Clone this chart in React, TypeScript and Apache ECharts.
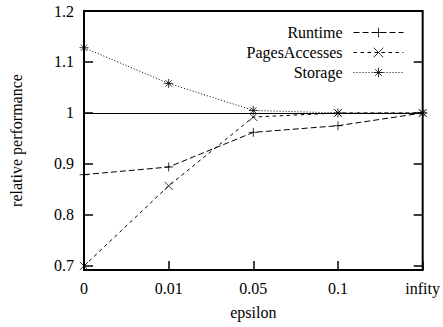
import React, { useEffect, useRef } from "react";
import * as echarts from "echarts";

const categories = ["0", "0.01", "0.05", "0.1", "infity"];
const runtime = [0.879, 0.894, 0.962, 0.975, 1.0];
const pagesAccesses = [0.7, 0.857, 0.992, 1.0, 1.0];
const storage = [1.128, 1.058, 1.005, 1.0, 1.0];
const yTicks = [0.7, 0.8, 0.9, 1.0, 1.1, 1.2];
const yMin = 0.692;
const yMax = 1.2;
const referenceLine = 1.0;

const FONT = "Liberation Serif";

const PLUS = "path://M5,0L5,10M0,5L10,5";
const CROSS = "path://M0,0L10,10M10,0L0,10";
const STAR = "path://M5,0L5,10M0,5L10,5M1.5,1.5L8.5,8.5M8.5,1.5L1.5,8.5";

export default function App() {
  const ref = useRef<HTMLDivElement>(null);
  useEffect(() => {
    if (!ref.current) return;
    const chart = echarts.init(ref.current, undefined, { renderer: "svg" });
    const markerStyle = { color: "#000", borderColor: "#000", borderWidth: 0.8 };
    const tickStyle = { color: "#000", width: 1.5 };
    chart.setOption({
      animation: false,
      backgroundColor: "#fff",
      textStyle: { fontFamily: FONT, color: "#000" },
      grid: {
        left: 83,
        top: 11,
        right: 18.5,
        bottom: 57,
        show: true,
        borderColor: "#000",
        borderWidth: 2,
        backgroundColor: "transparent",
      },
      legend: {
        orient: "vertical",
        right: 39,
        top: 24.5,
        padding: 0,
        align: "right",
        itemWidth: 50,
        itemHeight: 12,
        itemGap: 4,
        itemStyle: { borderWidth: 0.8 },
        lineStyle: { width: 1 },
        textStyle: { fontFamily: FONT, fontSize: 16, color: "#000", padding: [0, 6, 0, 0] },
        data: ["Runtime", "PagesAccesses", "Storage"],
      },
      xAxis: {
        type: "category",
        data: categories,
        boundaryGap: false,
        name: "epsilon",
        nameLocation: "middle",
        nameGap: 34,
        nameTextStyle: { fontFamily: FONT, fontSize: 16, color: "#000" },
        axisLine: { show: false },
        axisTick: { show: true, inside: true, length: 9, interval: 0, lineStyle: tickStyle },
        axisLabel: { fontFamily: FONT, fontSize: 16, color: "#000", margin: 10, interval: 0 },
        splitLine: { show: false },
      },
      yAxis: [
        {
          type: "value",
          min: yMin,
          max: yMax,
          name: "relative performance",
          nameLocation: "middle",
          nameGap: 60,
          nameTextStyle: { fontFamily: FONT, fontSize: 16, color: "#000" },
          axisLine: { show: false },
          axisTick: { show: true, inside: true, length: 9, lineStyle: tickStyle, customValues: yTicks },
          axisLabel: { fontFamily: FONT, fontSize: 16, color: "#000", margin: 10, customValues: yTicks },
          splitLine: { show: false },
        },
        {
          type: "value",
          position: "right",
          min: yMin,
          max: yMax,
          axisLine: { show: false },
          axisTick: { show: true, inside: true, length: 9, lineStyle: tickStyle, customValues: yTicks },
          axisLabel: { show: false, customValues: yTicks },
          splitLine: { show: false },
        },
      ],
      series: [
        {
          name: "Runtime",
          type: "line",
          data: runtime,
          symbol: PLUS,
          symbolSize: 9,
          showSymbol: true,
          itemStyle: markerStyle,
          lineStyle: { color: "#000", width: 1, type: [6, 3] },
          markLine: {
            silent: true,
            symbol: ["none", "none"],
            label: { show: false },
            lineStyle: { color: "#000", width: 1, type: "solid" },
            data: [{ yAxis: referenceLine }],
          },
        },
        {
          name: "PagesAccesses",
          type: "line",
          data: pagesAccesses,
          symbol: CROSS,
          symbolSize: 8,
          showSymbol: true,
          itemStyle: markerStyle,
          lineStyle: { color: "#000", width: 1, type: [3.5, 3.5] },
        },
        {
          name: "Storage",
          type: "line",
          data: storage,
          symbol: STAR,
          symbolSize: 9,
          showSymbol: true,
          itemStyle: markerStyle,
          lineStyle: { color: "#000", width: 1, type: [1, 2] },
        },
      ],
    });
    return () => chart.dispose();
  }, []);
  return (
    <div
      ref={ref}
      style={{ position: "absolute", left: 0, top: 0, width: 443, height: 327 }}
    />
  );
}
